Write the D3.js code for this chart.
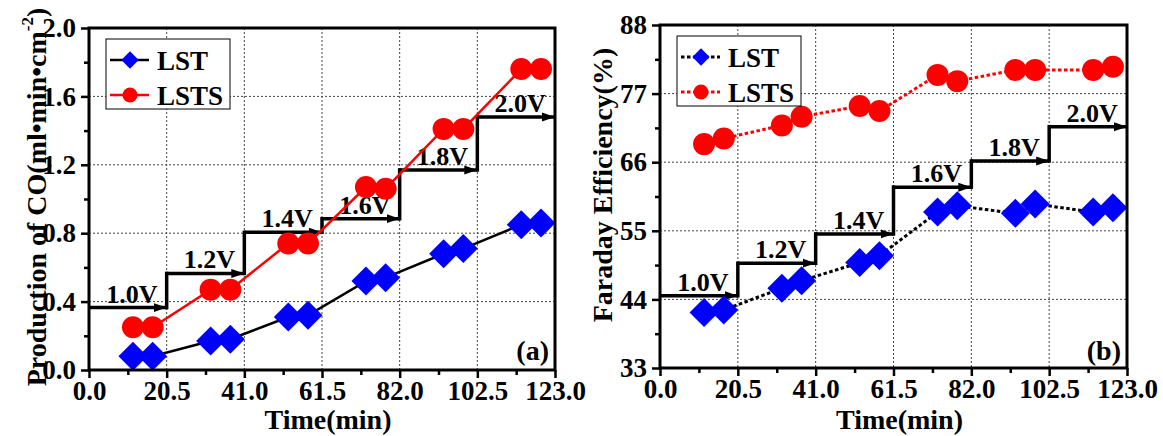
<!DOCTYPE html>
<html>
<head>
<meta charset="utf-8">
<script src="https://cdn.jsdelivr.net/npm/d3@7"></script>
<style>
  body { margin: 0; background: #fff; }
  text { font-family: "Liberation Serif", "Times New Roman", serif; font-weight: bold; fill: #000; }
</style>
</head>
<body>
<div id="chart"></div>
<script>
// Data
const timeMin = [11.6, 16.8, 32.1, 37.3, 52.6, 57.8, 73.1, 78.3, 93.6, 98.8, 114.1, 119.3];

const coLST  = [0.08, 0.08, 0.17, 0.18, 0.31, 0.32, 0.52, 0.54, 0.68, 0.71, 0.85, 0.86];
const coLSTS = [0.25, 0.25, 0.47, 0.47, 0.74, 0.74, 1.07, 1.06, 1.41, 1.41, 1.76, 1.76];

const feLST  = [41.9, 42.3, 45.8, 47.0, 49.9, 51.0, 58.0, 59.0, 57.8, 59.3, 58.0, 58.7];
const feLSTS = [68.9, 69.8, 71.9, 73.3, 75.0, 74.2, 80.0, 79.0, 80.8, 80.8, 80.8, 81.3];

const stepBounds = [0, 20.5, 41, 61.5, 82, 102.5, 123];
const stepLabels = ["1.0V", "1.2V", "1.4V", "1.6V", "1.8V", "2.0V"];
const coSteps = [0.365, 0.565, 0.805, 0.885, 1.17, 1.48];
const feSteps = [44.6, 49.8, 54.5, 62.0, 66.2, 71.7];

const xTicks  = [0, 20.5, 41, 61.5, 82, 102.5, 123];
const coTicks = [0, 0.4, 0.8, 1.2, 1.6, 2.0];
const feTicks = [33, 44, 55, 66, 77, 88];

const seriesNames = ["LST", "LSTS"];

const svg = d3.select("#chart").append("svg")
    .attr("width", 1163)
    .attr("height", 436);

// arrow head for the voltage steps
svg.append("defs").append("marker")
    .attr("id", "arrow")
    .attr("markerUnits", "userSpaceOnUse")
    .attr("markerWidth", 14)
    .attr("markerHeight", 10)
    .attr("refX", 13)
    .attr("refY", 5)
    .attr("orient", "auto")
    .append("path")
    .attr("d", "M0,0.5L13,5L0,9.5Z")
    .attr("fill", "#000");

const mids = arr => arr.slice(1).map((v, i) => (v + arr[i]) / 2);

function drawPanel(opt) {
    const x = d3.scaleLinear().domain([0, 123]).range([opt.left, opt.right]);
    const y = d3.scaleLinear().domain(opt.yDomain).range([opt.bottom, opt.top]);
    const g = svg.append("g");

    // dotted grid
    g.selectAll(".vgrid")
        .data(xTicks.slice(1, -1))
        .enter().append("line")
        .attr("x1", d => x(d)).attr("x2", d => x(d))
        .attr("y1", opt.top).attr("y2", opt.bottom)
        .attr("stroke", "#444").attr("stroke-width", 1).attr("stroke-dasharray", "2,2");
    g.selectAll(".hgrid")
        .data(opt.yTicks.slice(1, -1))
        .enter().append("line")
        .attr("x1", opt.left).attr("x2", opt.right)
        .attr("y1", d => y(d)).attr("y2", d => y(d))
        .attr("stroke", "#444").attr("stroke-width", 1).attr("stroke-dasharray", "2,2");

    // voltage steps
    const steps = stepLabels.map((lab, i) => ({
        lab, x0: stepBounds[i], x1: stepBounds[i + 1], v: opt.steps[i], next: opt.steps[i + 1]
    }));
    g.selectAll(".step")
        .data(steps)
        .enter().append("line")
        .attr("x1", d => x(d.x0)).attr("x2", d => x(d.x1))
        .attr("y1", d => y(d.v)).attr("y2", d => y(d.v))
        .attr("stroke", "#000").attr("stroke-width", 3.5)
        .attr("marker-end", "url(#arrow)");
    g.selectAll(".riser")
        .data(steps.slice(0, -1))
        .enter().append("line")
        .attr("x1", d => x(d.x1)).attr("x2", d => x(d.x1))
        .attr("y1", d => y(d.v) + 1.75).attr("y2", d => y(d.next) - 1.75)
        .attr("stroke", "#000").attr("stroke-width", 3.5);
    g.selectAll(".steplab")
        .data(steps)
        .enter().append("text")
        .attr("x", d => (x(d.x0) + x(d.x1)) / 2 + 4)
        .attr("y", d => y(d.v) - 5)
        .attr("text-anchor", "middle")
        .attr("font-size", 26)
        .text(d => d.lab);

    // series lines
    const dash = opt.dotted ? "3.5,2.5" : null;
    const line = d3.line().x(d => x(d[0])).y(d => y(d[1]));
    const lstPts = timeMin.map((t, i) => [t, opt.lst[i]]);
    const lstsPts = timeMin.map((t, i) => [t, opt.lsts[i]]);

    g.append("path").datum(lstPts).attr("d", line)
        .attr("fill", "none").attr("stroke", "#000").attr("stroke-width", opt.dotted ? 3 : 2.5)
        .attr("stroke-dasharray", dash);
    g.append("path").datum(lstsPts).attr("d", line)
        .attr("fill", "none").attr("stroke", "#f00").attr("stroke-width", opt.dotted ? 3 : 2.5)
        .attr("stroke-dasharray", dash);

    const diamond = d3.symbol(d3.symbolSquare, 420);
    g.selectAll(".lst")
        .data(lstPts)
        .enter().append("path")
        .attr("d", diamond)
        .attr("transform", d => `translate(${x(d[0])},${y(d[1])}) rotate(45)`)
        .attr("fill", "#0000ff");
    g.selectAll(".lsts")
        .data(lstsPts)
        .enter().append("circle")
        .attr("cx", d => x(d[0])).attr("cy", d => y(d[1]))
        .attr("r", 11)
        .attr("fill", "#ff0000");

    // axes
    const xAxis = g.append("g")
        .attr("transform", `translate(0,${opt.bottom})`)
        .call(d3.axisBottom(x).tickValues(xTicks).tickFormat(d3.format(".1f"))
            .tickSize(8).tickPadding(3).tickSizeOuter(0));
    g.append("g")
        .attr("transform", `translate(0,${opt.bottom})`)
        .call(d3.axisBottom(x).tickValues(mids(xTicks)).tickFormat("").tickSize(5).tickSizeOuter(0));
    const yAxis = g.append("g")
        .attr("transform", `translate(${opt.left},0)`)
        .call(d3.axisLeft(y).tickValues(opt.yTicks).tickFormat(opt.yFmt)
            .tickSize(8).tickPadding(5).tickSizeOuter(0));
    g.append("g")
        .attr("transform", `translate(${opt.left},0)`)
        .call(d3.axisLeft(y).tickValues(mids(opt.yTicks)).tickFormat("").tickSize(5).tickSizeOuter(0));

    g.selectAll(".domain").remove();
    g.selectAll(".tick line").attr("stroke", "#000").attr("stroke-width", 2.5);
    xAxis.selectAll("text").attr("font-size", 27).attr("font-family", null);
    yAxis.selectAll("text").attr("font-size", 27).attr("font-family", null);

    // frame
    g.append("rect")
        .attr("x", opt.left).attr("y", opt.top)
        .attr("width", opt.right - opt.left).attr("height", opt.bottom - opt.top)
        .attr("fill", "none").attr("stroke", "#000").attr("stroke-width", 3);

    // titles
    g.append("text")
        .attr("x", (opt.left + opt.right) / 2 + 6)
        .attr("y", 429)
        .attr("text-anchor", "middle")
        .attr("font-size", 28)
        .text("Time(min)");

    const yt = g.append("text")
        .attr("transform", `translate(${opt.titleX},${opt.titleY}) rotate(-90)`)
        .attr("text-anchor", "middle")
        .attr("font-size", 28);
    opt.title.forEach(part => {
        const ts = yt.append("tspan").text(part.t);
        if (part.sup) ts.attr("font-size", 17).attr("dy", -13);
        if (part.down) ts.attr("dy", 13);
    });

    g.append("text")
        .attr("x", opt.right - 6)
        .attr("y", 360)
        .attr("text-anchor", "end")
        .attr("font-size", 28)
        .text(opt.tag);

    // legend
    const lx = opt.left + 17, ly = opt.top + 11;
    g.append("rect")
        .attr("x", lx).attr("y", ly).attr("width", 124).attr("height", 70)
        .attr("fill", "#fff").attr("stroke", "#000").attr("stroke-width", 1);
    const rows = [ly + 21, ly + 56];
    const colors = ["#000", "#f00"];
    seriesNames.forEach((name, i) => {
        g.append("line")
            .attr("x1", lx + 4).attr("x2", lx + 43)
            .attr("y1", rows[i]).attr("y2", rows[i])
            .attr("stroke", colors[i]).attr("stroke-width", opt.dotted ? 3 : 2.5)
            .attr("stroke-dasharray", dash);
        if (i === 0) {
            g.append("path")
                .attr("d", d3.symbol(d3.symbolSquare, 150)())
                .attr("transform", `translate(${lx + 24},${rows[i]}) rotate(45)`)
                .attr("fill", "#0000ff");
        } else {
            g.append("circle")
                .attr("cx", lx + 24).attr("cy", rows[i]).attr("r", 7.5)
                .attr("fill", "#ff0000");
        }
        g.append("text")
            .attr("x", lx + 51).attr("y", rows[i] + 9.5)
            .attr("font-size", 27)
            .text(name);
    });
}

drawPanel({
    left: 89, right: 555, top: 28, bottom: 370,
    yDomain: [0, 2.0], yTicks: coTicks, yFmt: d3.format(".1f"),
    lst: coLST, lsts: coLSTS, steps: coSteps, dotted: false,
    tag: "(a)", titleX: 46, titleY: 197,
    title: [{ t: "Production of CO(ml\u2022min\u2022cm" }, { t: "-2", sup: true }, { t: ")", down: true }]
});

drawPanel({
    left: 660, right: 1127, top: 25, bottom: 368,
    yDomain: [33, 88], yTicks: feTicks, yFmt: d3.format("d"),
    lst: feLST, lsts: feLSTS, steps: feSteps, dotted: true,
    tag: "(b)", titleX: 612, titleY: 185,
    title: [{ t: "Faraday Efficiency(%)" }]
});
</script>
</body>
</html>
